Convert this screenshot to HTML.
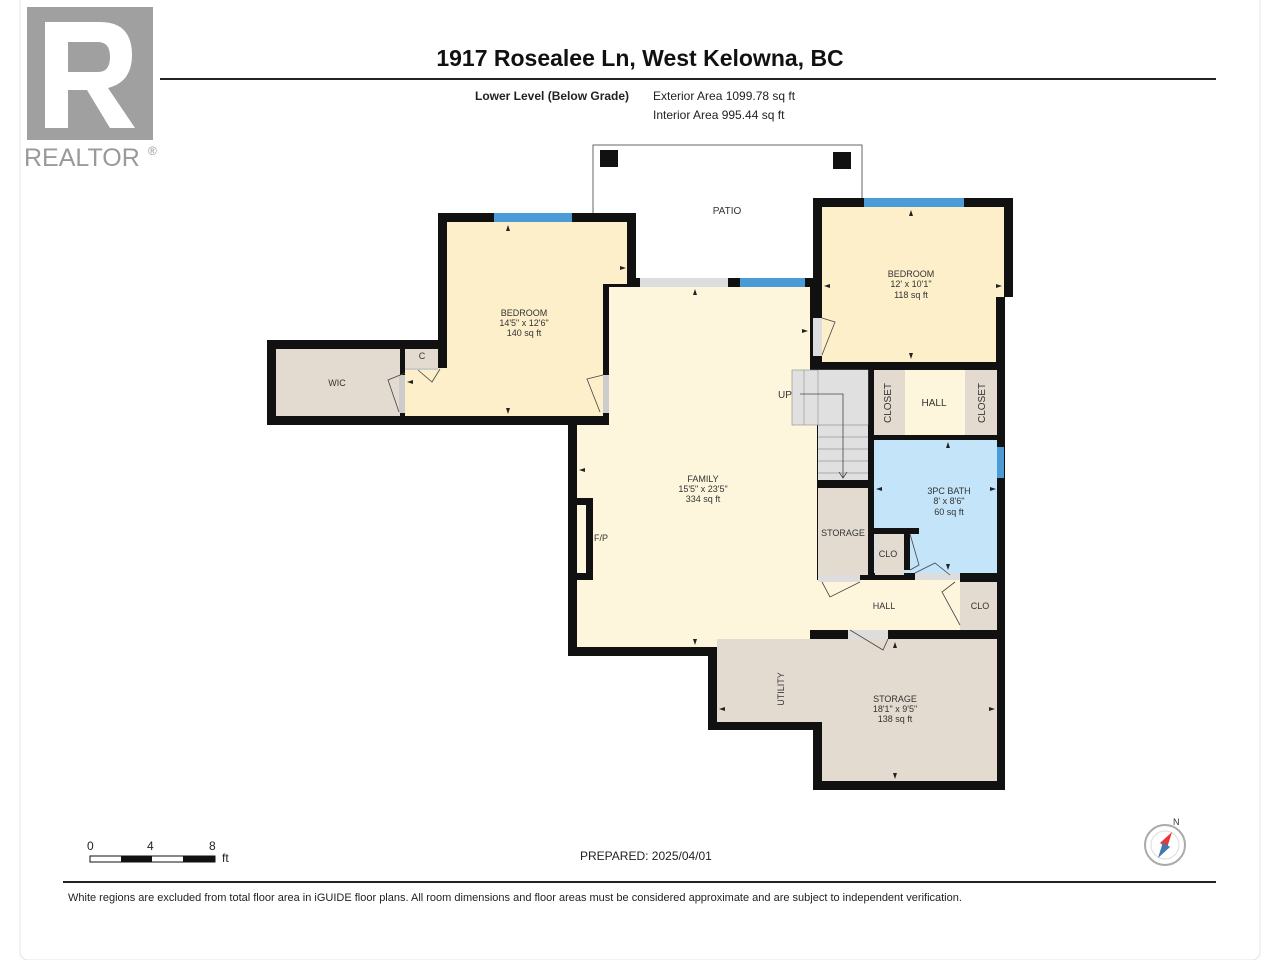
<!DOCTYPE html>
<html><head><meta charset="utf-8"><style>
body{margin:0;background:#fff;}
svg{display:block;font-family:"Liberation Sans",sans-serif;}
</style></head><body>
<svg width="1280" height="960" viewBox="0 0 1280 960" xmlns="http://www.w3.org/2000/svg">
<rect x="20" y="-5" width="1240" height="965" rx="8" fill="none" stroke="#e4e4e4" stroke-width="1"/>
<!-- logo -->
<rect x="27" y="7" width="126" height="133" fill="#a0a0a0"/>
<path d="M45 22 H100 Q132 22 132 55 Q132 82 108 88 L135 128 H110 L87 90 H68 V128 H45 Z M68 42 V72 H98 Q110 72 110 57 Q110 42 98 42 Z" fill="#fff"/>
<text x="24" y="166" font-size="25" fill="#9a9a9a">REALTOR</text><text x="148" y="155" font-size="12" fill="#9a9a9a">®</text>
<text x="640" y="66" font-size="23" font-weight="bold" text-anchor="middle" fill="#111">1917 Rosealee Ln, West Kelowna, BC</text>
<line x1="160" y1="79" x2="1216" y2="79" stroke="#222" stroke-width="2"/>
<text x="475" y="100" font-size="12" font-weight="bold" fill="#222">Lower Level (Below Grade)</text>
<text x="653" y="100" font-size="12" fill="#222">Exterior Area 1099.78 sq ft</text>
<text x="653" y="119" font-size="12" fill="#222">Interior Area 995.44 sq ft</text>
<!-- patio -->
<polyline points="593,213 593,145 862,145 862,198" fill="none" stroke="#666" stroke-width="1"/>
<rect x="600" y="150" width="18" height="17" fill="#111"/>
<rect x="833" y="152" width="18" height="17" fill="#111"/>
<text x="727" y="214" font-size="10" text-anchor="middle" fill="#333">PATIO</text>
<!-- walls (black backgrounds) -->
<rect x="267" y="340" width="180" height="85" fill="#111"/>
<rect x="438" y="213" width="198" height="212" fill="#111"/>
<rect x="568" y="278" width="250" height="378" fill="#111"/>
<rect x="813" y="198" width="200" height="99" fill="#111"/>
<rect x="813" y="290" width="192" height="80" fill="#111"/>
<rect x="805" y="362" width="200" height="277" fill="#111"/>
<rect x="708" y="630" width="297" height="100" fill="#111"/>
<rect x="813" y="630" width="192" height="160" fill="#111"/>
<!-- WIC -->
<rect x="276" y="349" width="124" height="67" fill="#e3dbd0"/>
<!-- left bedroom -->
<rect x="447" y="222" width="180" height="62" fill="#fcefc9"/>
<rect x="447" y="222" width="156" height="194" fill="#fcefc9"/>
<rect x="405" y="368" width="45" height="48" fill="#fcefc9"/>
<rect x="405" y="349" width="33" height="19" fill="#e3dbd0"/>
<rect x="405" y="368" width="33" height="2" fill="#ccc"/>
<rect x="494" y="213" width="78" height="9" fill="#4a9bd6"/>
<rect x="399" y="375" width="6" height="38" fill="#ccc"/>
<rect x="603" y="375" width="6" height="38" fill="#ccc"/>
<!-- family -->
<rect x="609" y="287" width="201" height="360" fill="#fdf6dc"/>
<rect x="577" y="425" width="240" height="222" fill="#fdf6dc"/>
<rect x="810" y="580" width="150" height="50" fill="#fdf6dc"/>
<rect x="640" y="278" width="88" height="9" fill="#ddd"/>
<rect x="740" y="278" width="65" height="9" fill="#4a9bd6"/>
<rect x="577" y="498" width="16" height="82" fill="#111"/>
<rect x="577" y="505" width="9" height="68" fill="#fdf6dc"/>
<!-- right bedroom -->
<rect x="822" y="207" width="182" height="90" fill="#fcefc9"/>
<rect x="822" y="207" width="174" height="155" fill="#fcefc9"/>
<rect x="864" y="198" width="100" height="9" fill="#4a9bd6"/>
<rect x="813" y="318" width="9" height="38" fill="#ddd"/>
<!-- stairs -->
<rect x="792" y="370" width="76" height="55" fill="#e0e0e0" stroke="#888" stroke-width="0.6"/>
<rect x="818" y="370" width="50" height="110" fill="#e0e0e0"/>
<g stroke="#999" stroke-width="0.7">
<line x1="804" y1="370" x2="804" y2="425"/><line x1="818" y1="370" x2="818" y2="425"/>
<line x1="818" y1="425" x2="868" y2="425"/><line x1="818" y1="437" x2="868" y2="437"/><line x1="818" y1="449" x2="868" y2="449"/><line x1="818" y1="461" x2="868" y2="461"/><line x1="818" y1="473" x2="868" y2="473"/></g>
<path d="M800 394 H843 V478 M839 472 L843 478 L847 472" fill="none" stroke="#444" stroke-width="0.8"/>
<text x="778" y="398" font-size="10" fill="#333">UP</text>
<!-- closets/hall -->
<rect x="874" y="370" width="31" height="65" fill="#e3dbd0"/>
<rect x="905" y="370" width="60" height="65" fill="#fdf6dc"/>
<rect x="965" y="370" width="32" height="65" fill="#e3dbd0"/>
<text x="891" y="403" font-size="10" fill="#333" text-anchor="middle" transform="rotate(-90 891 403)">CLOSET</text>
<text x="985" y="403" font-size="10" fill="#333" text-anchor="middle" transform="rotate(-90 985 403)">CLOSET</text>
<text x="934" y="406" font-size="10" fill="#333" text-anchor="middle">HALL</text>
<!-- bath -->
<rect x="874" y="440" width="123" height="133" fill="#c3e4f9"/>
<rect x="997" y="447" width="7" height="31" fill="#4a9bd6"/>
<rect x="874" y="528" width="45" height="6" fill="#111"/>
<rect x="875" y="534" width="29" height="41" fill="#e3dbd0"/>
<rect x="904" y="534" width="6" height="36" fill="#111"/>
<rect x="910" y="534" width="8" height="36" fill="#c3e4f9"/>
<!-- small storage -->
<rect x="818" y="488" width="50" height="87" fill="#e3dbd0"/>
<rect x="960" y="582" width="37" height="48" fill="#e3dbd0"/>
<rect x="818" y="575" width="42" height="7" fill="#ddd"/>
<rect x="915" y="573" width="45" height="7" fill="#ddd"/>
<!-- bottom storage -->
<rect x="717" y="639" width="280" height="83" fill="#e3dbd0"/>
<rect x="822" y="639" width="175" height="142" fill="#e3dbd0"/>
<rect x="810" y="630" width="140" height="9" fill="#fdf6dc"/>
<rect x="848" y="630" width="40" height="9" fill="#ddd"/>
<rect x="810" y="630" width="38" height="9" fill="#111"/>
<rect x="888" y="630" width="72" height="9" fill="#111"/>
<!-- door swings -->
<g fill="none" stroke="#444" stroke-width="0.8">
<path d="M405 373 L388 380 L399 412"/><path d="M418 370 L432 382 L440 369"/><path d="M603 375 L587 379 L600 412"/>
<path d="M822 318 L835 322 L822 355"/><path d="M822 582 L830 597 L860 582"/><path d="M955 582 L942 592 L960 625"/>
<path d="M850 630 L883 650 L888 639"/><path d="M910 534 L919 565 L910 570"/><path d="M915 573 L935 563 L950 575"/>
</g>
<!-- dimension arrowheads -->
<g fill="#222">
<path d="M508 225 l-2 6 h4z"/><path d="M508 414 l-2 -6 h4z"/><path d="M626 268 l-6 -2 v4z"/><path d="M407 382 l6 -2 v4z"/>
<path d="M911 210 l-2 6 h4z"/><path d="M911 359 l-2 -6 h4z"/><path d="M824 286 l6 -2 v4z"/><path d="M1002 286 l-6 -2 v4z"/>
<path d="M695 289 l-2 6 h4z"/><path d="M695 645 l-2 -6 h4z"/><path d="M579 470 l6 -2 v4z"/><path d="M808 331 l-6 -2 v4z"/>
<path d="M948 442 l-2 6 h4z"/><path d="M948 570 l-2 -6 h4z"/><path d="M876 489 l6 -2 v4z"/><path d="M996 489 l-6 -2 v4z"/>
<path d="M895 642 l-2 6 h4z"/><path d="M895 779 l-2 -6 h4z"/><path d="M719 709 l6 -2 v4z"/><path d="M995 709 l-6 -2 v4z"/>
</g>
<!-- labels -->
<g font-size="9" fill="#333" text-anchor="middle">
<text x="524" y="316">BEDROOM</text><text x="524" y="326">14'5" x 12'6"</text><text x="524" y="336">140 sq ft</text>
<text x="911" y="277">BEDROOM</text><text x="911" y="287">12' x 10'1"</text><text x="911" y="298">118 sq ft</text>
<text x="703" y="482">FAMILY</text><text x="703" y="492">15'5" x 23'5"</text><text x="703" y="502">334 sq ft</text>
<text x="949" y="494">3PC BATH</text><text x="949" y="504">8' x 8'6"</text><text x="949" y="515">60 sq ft</text>
<text x="895" y="702">STORAGE</text><text x="895" y="712">18'1" x 9'5"</text><text x="895" y="722">138 sq ft</text>
<text x="337" y="386">WIC</text><text x="422" y="359">C</text><text x="601" y="541">F/P</text>
<text x="843" y="536">STORAGE</text><text x="888" y="557">CLO</text><text x="980" y="609">CLO</text><text x="884" y="609">HALL</text>
<text x="784" y="689" transform="rotate(-90 784 689)">UTILITY</text>
</g>
<!-- scale -->
<rect x="90" y="856" width="125" height="6" fill="#fff" stroke="#111" stroke-width="1"/>
<rect x="121" y="856" width="31" height="6" fill="#111"/><rect x="183" y="856" width="32" height="6" fill="#111"/>
<g font-size="12" fill="#222"><text x="87" y="850">0</text><text x="147" y="850">4</text><text x="209" y="850">8</text><text x="222" y="862">ft</text>
<text x="580" y="860">PREPARED: 2025/04/01</text></g>
<circle cx="1165" cy="845" r="20" fill="#fff" stroke="#aaa" stroke-width="2"/>
<circle cx="1165" cy="845" r="14" fill="none" stroke="#ddd"/>
<path d="M1172 832 L1167 848 L1160 843 Z" fill="#e33"/><path d="M1158 858 L1163 842 L1170 847 Z" fill="#47a"/>
<text x="1173" y="825" font-size="9" fill="#333">N</text>
<line x1="63" y1="882" x2="1216" y2="882" stroke="#222" stroke-width="2"/>
<text x="68" y="901" font-size="11" fill="#222">White regions are excluded from total floor area in iGUIDE floor plans. All room dimensions and floor areas must be considered approximate and are subject to independent verification.</text>
</svg>
</body></html>
